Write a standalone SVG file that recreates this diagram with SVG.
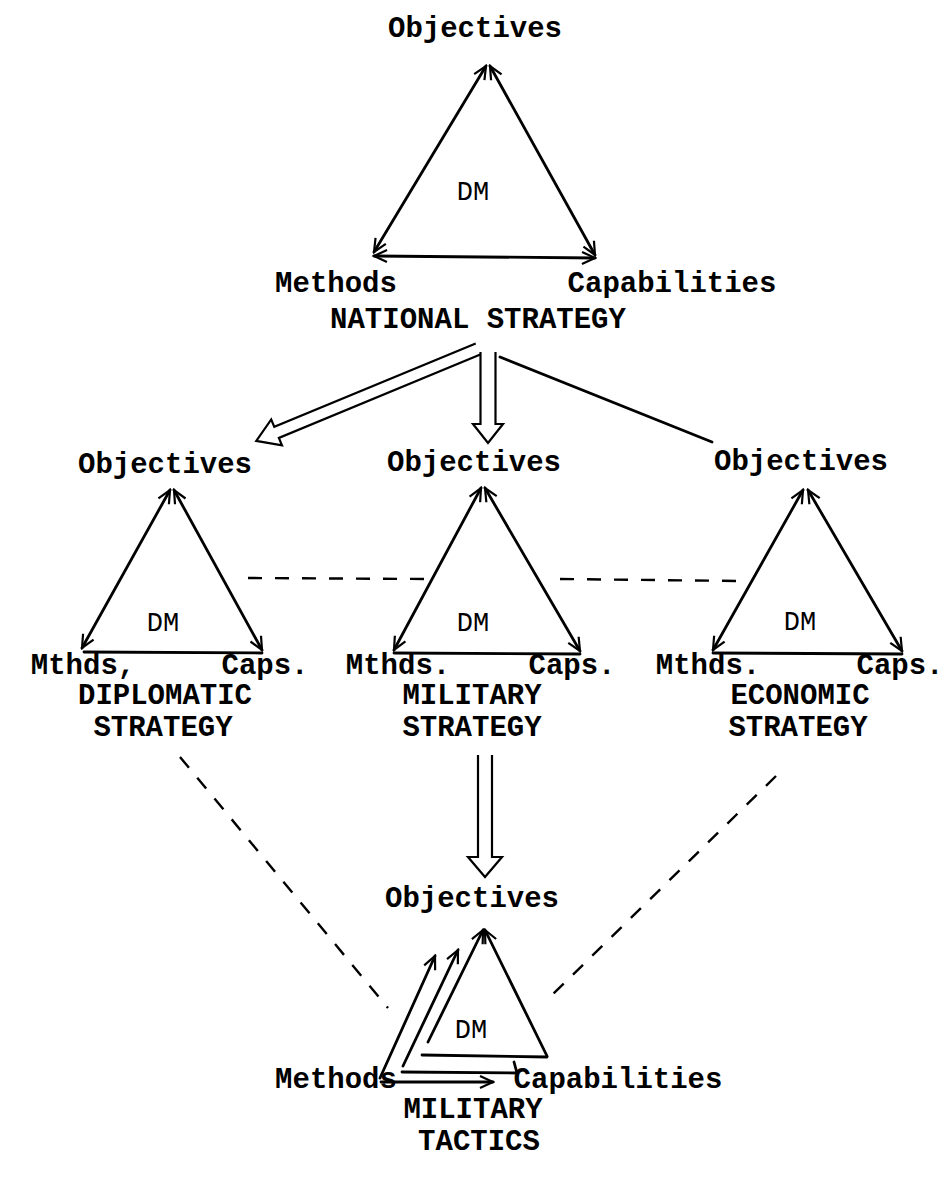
<svg xmlns="http://www.w3.org/2000/svg" width="951" height="1179" viewBox="0 0 951 1179">
<defs>
<style>
text{font-family:"Liberation Mono","DejaVu Sans Mono",monospace;font-size:29px;font-weight:bold;fill:#000;text-anchor:middle}
text.dm{font-size:27px;font-weight:normal}
.e{stroke:#000;stroke-width:2.8;fill:none;stroke-linecap:round}
.dash{stroke:#000;stroke-width:2.4;fill:none;stroke-dasharray:14 13}
.hollow{stroke:#000;stroke-width:2.2;fill:none;stroke-linejoin:miter}
</style>
<marker id="v" viewBox="-14 -8 16 16" markerWidth="16" markerHeight="16" markerUnits="userSpaceOnUse" orient="auto-start-reverse" refX="0" refY="0">
<path d="M-13,-6 L0,0 L-13,6" fill="none" stroke="#000" stroke-width="2.2"/>
</marker>
</defs>
<rect width="951" height="1179" fill="#fff"/>

<g id="national">
<line class="e" x1="374" y1="252" x2="486" y2="66" marker-start="url(#v)" marker-end="url(#v)"/>
<line class="e" x1="595" y1="255" x2="490" y2="66" marker-start="url(#v)" marker-end="url(#v)"/>
<line class="e" x1="374" y1="256" x2="595" y2="258" marker-start="url(#v)" marker-end="url(#v)"/>
<text x="475" y="37">Objectives</text>
<text class="dm" x="473" y="200">DM</text>
<text x="336" y="292">Methods</text>
<text x="672" y="292">Capabilities</text>
<text x="478" y="328">NATIONAL STRATEGY</text>
</g>

<g id="diplomatic">
<line class="e" x1="82" y1="648" x2="170" y2="490" marker-start="url(#v)" marker-end="url(#v)"/>
<line class="e" x1="262" y1="650" x2="174" y2="490" marker-start="url(#v)" marker-end="url(#v)"/>
<line class="e" x1="84" y1="652" x2="262" y2="653"/>
<text x="165" y="473">Objectives</text>
<text class="dm" x="163" y="631">DM</text>
<text x="83" y="674">Mthds,</text>
<text x="265" y="674">Caps.</text>
<text x="165" y="704">DIPLOMATIC</text>
<text x="163" y="736">STRATEGY</text>
</g>

<g id="military">
<line class="e" x1="394" y1="650" x2="481" y2="488" marker-start="url(#v)" marker-end="url(#v)"/>
<line class="e" x1="580" y1="651" x2="485" y2="488" marker-start="url(#v)" marker-end="url(#v)"/>
<line class="e" x1="394" y1="653" x2="580" y2="654"/>
<text x="474" y="471">Objectives</text>
<text class="dm" x="473" y="631">DM</text>
<text x="398" y="674">Mthds.</text>
<text x="572" y="674">Caps.</text>
<text x="472" y="704">MILITARY</text>
<text x="472" y="736">STRATEGY</text>
</g>

<g id="economic">
<line class="e" x1="713" y1="650" x2="803" y2="490" marker-start="url(#v)" marker-end="url(#v)"/>
<line class="e" x1="902" y1="651" x2="808" y2="490" marker-start="url(#v)" marker-end="url(#v)"/>
<line class="e" x1="713" y1="653" x2="902" y2="654"/>
<text x="801" y="470">Objectives</text>
<text class="dm" x="800" y="630">DM</text>
<text x="708" y="674">Mthds.</text>
<text x="900" y="674">Caps.</text>
<text x="800" y="704">ECONOMIC</text>
<text x="798" y="736">STRATEGY</text>
</g>

<g id="tactics">
<line class="e" x1="428" y1="1042" x2="483" y2="930" marker-end="url(#v)"/>
<line class="e" x1="547" y1="1056" x2="485" y2="930" marker-end="url(#v)"/>
<line class="e" x1="422" y1="1055" x2="547" y2="1057"/>
<line class="e" x1="403" y1="1066" x2="458" y2="950" marker-end="url(#v)"/>
<polyline class="e" points="402,1072 517,1073 514,1062"/>
<line class="e" x1="380" y1="1078" x2="435" y2="956" marker-end="url(#v)"/>
<line class="e" x1="381" y1="1082" x2="493" y2="1082" marker-end="url(#v)"/>
<text x="472" y="907">Objectives</text>
<text class="dm" x="471" y="1038">DM</text>
<text x="336" y="1088">Methods</text>
<text x="618" y="1088">Capabilities</text>
<text x="473" y="1118">MILITARY</text>
<text x="479" y="1150">TACTICS</text>
</g>

<g id="connectors">
<path class="hollow" d="M0,-6 L218,-6 L218,-14 L240,0 L218,14 L218,6 L0,6" transform="translate(478,349) rotate(157.5)"/>
<path class="hollow" d="M0,-7.5 L72,-7.5 L72,-15 L91,0 L72,15 L72,7.5 L0,7.5" transform="translate(488,352) rotate(90)"/>
<path class="hollow" d="M0,-7 L102,-7 L102,-17 L122,0 L102,17 L102,7 L0,7" transform="translate(485,755) rotate(90)"/>
<line class="e" x1="500" y1="357" x2="712" y2="442" stroke-width="2"/>
<line class="dash" x1="248" y1="578" x2="425" y2="579"/>
<line class="dash" x1="560" y1="579" x2="742" y2="581"/>
<line class="dash" x1="180" y1="757" x2="388" y2="1008"/>
<line class="dash" x1="776" y1="776" x2="547" y2="1000"/>
</g>
</svg>
